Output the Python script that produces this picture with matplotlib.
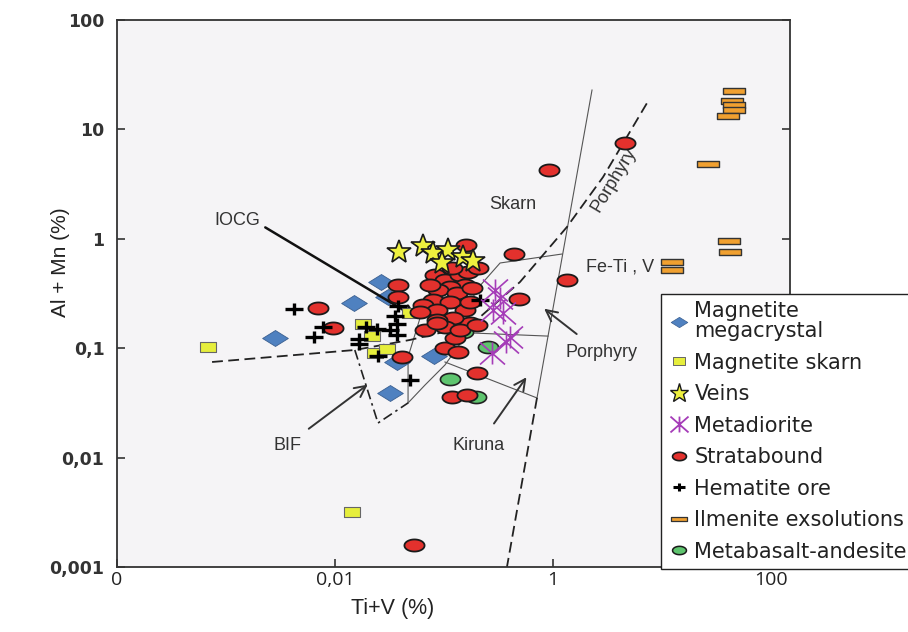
import numpy as np
import matplotlib
matplotlib.use('Agg')
import matplotlib.pyplot as plt
from matplotlib.path import Path
from matplotlib.lines import Line2D
from matplotlib.ticker import NullLocator

# ---------------- data: Ti+V (%) vs Al+Mn (%) ----------------
mega_x = [0.00282, 0.0149, 0.0264, 0.0306, 0.0371, 0.0809, 0.0320]
mega_y = [0.124, 0.259, 0.403, 0.294, 0.0748, 0.0849, 0.0389]

skarn_x = [0.000684, 0.0143, 0.0181, 0.0218, 0.0233, 0.0300, 0.0488]
skarn_y = [0.1026, 0.00318, 0.1664, 0.129, 0.0904, 0.0984, 0.210]

veins_x = [0.0386, 0.0641, 0.0792, 0.109, 0.0959, 0.149, 0.184]
veins_y = [0.757, 0.859, 0.741, 0.790, 0.601, 0.682, 0.627]

metadio_x = [0.294, 0.327, 0.282, 0.347, 0.404, 0.371, 0.275]
metadio_y = [0.340, 0.288, 0.223, 0.210, 0.127, 0.114, 0.0904]

strata_x = [0.918, 4.58, 0.438, 1.34, 0.488, 0.0531, 0.201, 0.118, 0.163, 0.0412,
            0.00698, 0.00959, 0.102, 0.134, 0.126, 0.173, 0.0379, 0.0379, 0.159,
            0.0826, 0.102, 0.140, 0.166, 0.205, 0.156, 0.114, 0.0881, 0.132, 0.181,
            0.0792, 0.114, 0.0641, 0.0863, 0.156, 0.173, 0.121, 0.0863, 0.0670,
            0.102, 0.140, 0.201, 0.0603, 0.118, 0.0745, 0.0863]
strata_y = [4.25, 7.51, 0.726, 0.420, 0.282, 0.00159, 0.0593, 0.0358, 0.0373, 0.0832,
            0.233, 0.153, 0.1004, 0.0923, 0.124, 0.170, 0.378, 0.294, 0.877,
            0.467, 0.420, 0.467, 0.497, 0.541, 0.378, 0.362, 0.340, 0.320, 0.355,
            0.276, 0.264, 0.248, 0.223, 0.223, 0.264, 0.189, 0.181, 0.147,
            0.156, 0.147, 0.163, 0.214, 0.541, 0.378, 0.170]

hema_x = [0.00421, 0.00776, 0.00641, 0.0166, 0.0166, 0.0192, 0.0243, 0.0320,
          0.0371, 0.0371, 0.0355, 0.0379, 0.0248, 0.0488, 0.214]
hema_y = [0.228, 0.156, 0.127, 0.121, 0.109, 0.156, 0.150, 0.147,
          0.132, 0.166, 0.197, 0.243, 0.0849, 0.0512, 0.276]

ilm_x = [45.8, 43.9, 45.8, 45.8, 40.4, 26.4, 41.2, 42.1, 12.4, 12.4]
ilm_y = [22.4, 18.2, 16.7, 15.0, 13.3, 4.83, 0.955, 0.757, 0.614, 0.519]

basalt_x = [0.149, 0.254, 0.114, 0.197]
basalt_y = [0.141, 0.1026, 0.0523, 0.0358]

# field boundaries
dash_x = [0.000745, 0.0152, 0.0488, 0.173, 0.498, 1.34, 2.88, 7.28]
dash_y = [0.0748, 0.0963, 0.119, 0.160, 0.403, 1.28, 3.67, 17.4]
bif_x = [0.0152, 0.0248, 0.0468]
bif_y = [0.0963, 0.0207, 0.0316]
iocg_left_x = [0.0468, 0.0468, 0.0603, 0.0863]
iocg_left_y = [0.0316, 0.0832, 0.189, 0.467]
kiruna_left_x = [0.0468, 0.0670, 0.102, 0.134, 0.173]
kiruna_left_y = [0.0316, 0.0461, 0.0702, 0.1026, 0.147]
porph_top_x = [1.21, 0.327, 0.205, 0.146]
porph_top_y = [0.726, 0.601, 0.355, 0.189]
porph_low_x = [0.173, 0.900]
porph_low_y = [0.138, 0.129]
kiruna_low_x = [0.102, 0.713]
kiruna_low_y = [0.0748, 0.0351]
fe_line_x = [2.28, 0.713]
fe_line_y = [22.9, 0.0351]
kiruna_right_x = [0.713, 0.378]
kiruna_right_y = [0.0351, 0.001]

# ---------------- markers ----------------
t = np.linspace(0, 2 * np.pi, 64)
ellipse = Path(np.column_stack([np.cos(t), 0.6 * np.sin(t)]), closed=True)
diamond = Path([(-1, 0), (0, 0.62), (1, 0), (0, -0.62), (-1, 0)], closed=True)
rect = Path([(-1, -0.65), (1, -0.65), (1, 0.65), (-1, 0.65), (-1, -0.65)], closed=True)
bar = Path([(-1, -0.26), (1, -0.26), (1, 0.26), (-1, 0.26), (-1, -0.26)], closed=True)
plus = Path([(-1, 0), (1, 0), (0, -0.6), (0, 0.6)],
            [Path.MOVETO, Path.LINETO, Path.MOVETO, Path.LINETO])
aster = Path([(0, -0.88), (0, 0.88), (-1, -0.88), (1, 0.88), (-1, 0.88), (1, -0.88)],
             [Path.MOVETO, Path.LINETO] * 3)

BLUE, BLUE_E = '#4f81c0', '#3a5f90'
YEL = '#e6ee3c'
STAR = '#eef03e'
PURP = '#a53cb8'
RED = '#e3312d'
GREEN = '#5ec46e'
ORANGE = '#f0a030'

fig = plt.figure(figsize=(9.08, 6.32), dpi=100)
ax = fig.add_axes([117 / 908, 1 - 567 / 632, 673 / 908, 547 / 632])
ax.set_facecolor('#f5f4f6')
ax.set_xscale('log')
ax.set_yscale('log')
ax.set_xlim(1e-4, 10 ** (673 / 109 - 4))
ax.set_ylim(1e-3, 100)

# boundaries
thin = dict(color='#555555', lw=0.8, zorder=1.5)
ax.plot(dash_x, dash_y, color='#222222', lw=1.3, ls=(0, (6, 3)), zorder=1.6)
ax.plot(bif_x, bif_y, color='#222222', lw=1.2, ls=(0, (6, 2.5, 1.5, 2.5)), zorder=1.6)
ax.plot(iocg_left_x, iocg_left_y, **thin)
ax.plot(kiruna_left_x, kiruna_left_y, **thin)
ax.plot(porph_top_x, porph_top_y, **thin)
ax.plot(porph_low_x, porph_low_y, **thin)
ax.plot(kiruna_low_x, kiruna_low_y, **thin)
ax.plot(fe_line_x, fe_line_y, **thin)
ax.plot(kiruna_right_x, kiruna_right_y, color='#222222', lw=1.3, ls=(0, (6, 3)), zorder=1.6)

# points
ax.plot(mega_x, mega_y, ls='none', marker=diamond, ms=18.5, mfc=BLUE, mec=BLUE_E, mew=0.6, zorder=3)
ax.plot(skarn_x, skarn_y, ls='none', marker=rect, ms=12, mfc=YEL, mec='#666666', mew=0.8, zorder=3.1)
ax.plot(basalt_x, basalt_y, ls='none', marker=ellipse, ms=14.5, mfc=GREEN, mec='#222222', mew=1.2, zorder=3.2)
ax.plot(strata_x, strata_y, ls='none', marker=ellipse, ms=14.5, mfc=RED, mec='#1a1a1a', mew=1.3, zorder=3.3)
ax.plot(hema_x, hema_y, ls='none', marker=plus, ms=13.5, mfc='none', mec='black', mew=2.4, zorder=3.4)
ax.plot(veins_x, veins_y, ls='none', marker='*', ms=18, mfc=STAR, mec='#1a1a1a', mew=1.2, zorder=3.5)
ax.plot(metadio_x, metadio_y, ls='none', marker=aster, ms=18, mfc='none', mec=PURP, mew=1.2, zorder=3.6)
ax.plot(ilm_x, ilm_y, ls='none', marker=bar, ms=16.5, mfc=ORANGE, mec='#333333', mew=1.0, zorder=3.7)

# annotations
tf = dict(fontsize=13, color='#333333', family='Liberation Sans')
ax.text(0.00126, 1.485, 'IOCG', ha='center', va='center', **tf)
ax.text(0.430, 2.04, 'Skarn', ha='center', va='center', **tf)
ax.text(3.63, 3.45, 'Porphyry', ha='center', va='center', rotation=59, **tf)
ax.text(4.12, 0.552, 'Fe-Ti , V', ha='center', va='center', **tf)
ax.annotate('', xy=(0.0603, 0.181), xytext=(0.00218, 1.31),
            arrowprops=dict(arrowstyle='->', lw=1.8, color='#111111', mutation_scale=22))
ax.annotate('Porphyry', xy=(0.792, 0.238), xytext=(2.76, 0.0904), ha='center', va='center',
            arrowprops=dict(arrowstyle='->', lw=1.4, color='#333333', mutation_scale=20,
                            shrinkA=9), **tf)
ax.annotate('BIF', xy=(0.0209, 0.0481), xytext=(0.00363, 0.01303), ha='center', va='center',
            arrowprops=dict(arrowstyle='->', lw=1.4, color='#333333', mutation_scale=20,
                            shrinkA=6), **tf)
ax.annotate('Kiruna', xy=(0.590, 0.0569), xytext=(0.209, 0.01303), ha='center', va='center',
            arrowprops=dict(arrowstyle='->', lw=1.4, color='#333333', mutation_scale=20,
                            shrinkA=9), **tf)

# axes styling
for s in ax.spines.values():
    s.set_color('#333333')
    s.set_linewidth(1.3)
ax.set_xticks([1e-4, 1e-2, 1, 100])
ax.set_xticklabels(['0', '0,01', '1', '100'], fontfamily='Open Sans', fontsize=14, color='#222222')
ax.set_yticks([1e-3, 1e-2, 1e-1, 1, 10, 100])
ax.set_yticklabels(['0,001', '0,01', '0,1', '1', '10', '100'], fontfamily='DejaVu Sans',
                   fontweight='bold', fontsize=12.5, color='#333333')
ax.xaxis.set_minor_locator(NullLocator())
ax.yaxis.set_minor_locator(NullLocator())
ax.tick_params(axis='both', direction='in', length=6, width=1.2, color='#333333')
ax.tick_params(axis='y', right=True, pad=9)
ax.tick_params(axis='x', pad=3)

ax.set_xlabel('Ti+V (%)', fontsize=15.5, family='Liberation Sans', color='#222222')
ax.set_ylabel('Al + Mn (%)', fontsize=15, family='Liberation Sans', color='#222222')
ax.xaxis.set_label_coords(0.410, -0.056)
ax.yaxis.set_label_coords(-0.07, 0.557)

# legend
handles = [
    Line2D([], [], ls='none', marker=diamond, ms=12, mfc=BLUE, mec=BLUE_E, mew=0.5),
    Line2D([], [], ls='none', marker=rect, ms=9, mfc=YEL, mec='#666666', mew=0.7),
    Line2D([], [], ls='none', marker='*', ms=14, mfc=STAR, mec='#1a1a1a', mew=1.0),
    Line2D([], [], ls='none', marker=aster, ms=13, mfc='none', mec=PURP, mew=1.3),
    Line2D([], [], ls='none', marker=ellipse, ms=10, mfc=RED, mec='#1a1a1a', mew=1.2),
    Line2D([], [], ls='none', marker=plus, ms=9, mfc='none', mec='black', mew=2.2),
    Line2D([], [], ls='none', marker=bar, ms=12, mfc=ORANGE, mec='#333333', mew=0.9),
    Line2D([], [], ls='none', marker=ellipse, ms=10, mfc=GREEN, mec='#1a1a1a', mew=1.1),
]
labels = ['Magnetite\nmegacrystal', 'Magnetite skarn', 'Veins', 'Metadiorite',
          'Stratabound', 'Hematite ore', 'Ilmenite exsolutions', 'Metabasalt-andesite']
leg = fig.legend(handles, labels, loc='upper left', bbox_to_anchor=(661 / 908, 1 - 294 / 632),
                 bbox_transform=fig.transFigure, frameon=True, fancybox=False,
                 edgecolor='#222222', framealpha=1, borderaxespad=0, borderpad=0.35,
                 handlelength=1.0, handletextpad=0.25, labelspacing=0.55,
                 prop={'family': 'DejaVu Sans', 'size': 15})
for txt in leg.get_texts():
    txt.set_color('#222222')
    txt.set_linespacing(1.0)
leg.get_frame().set_linewidth(1.0)

fig.savefig('out.png', dpi=100)
